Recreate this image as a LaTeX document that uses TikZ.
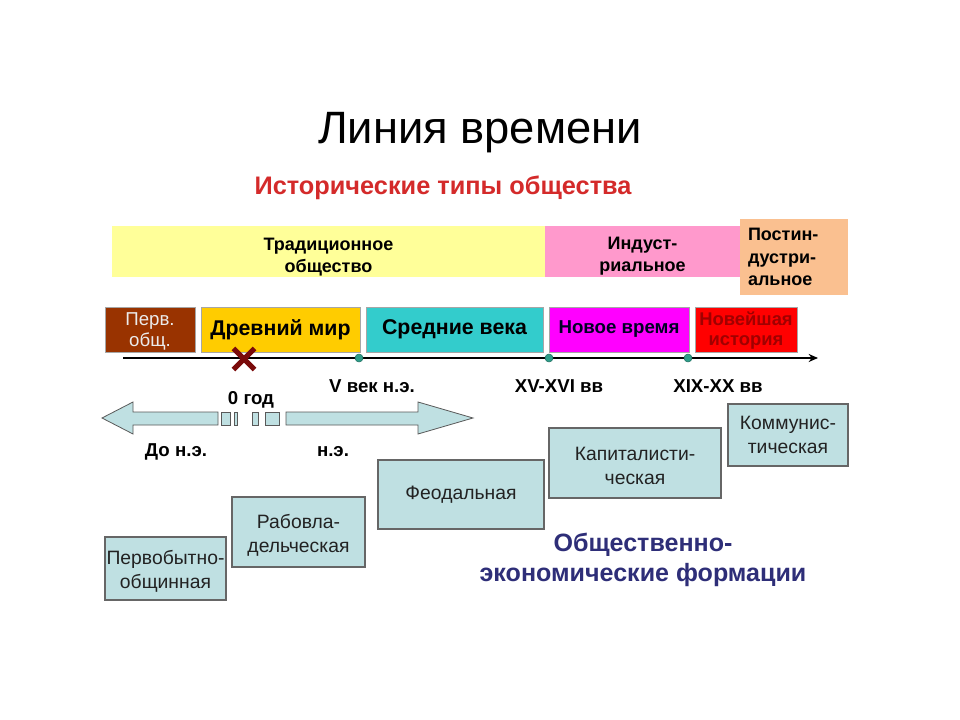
\documentclass[tikz,border=0pt]{standalone}
\usepackage{fontspec}
\setmainfont{Liberation Sans}
\usetikzlibrary{shapes.misc,arrows.meta}
\definecolor{bandyellow}{HTML}{FFFF99}
\definecolor{bandpink}{HTML}{FF99CC}
\definecolor{bandpeach}{HTML}{FAC090}
\definecolor{erabrown}{HTML}{993300}
\definecolor{eragold}{HTML}{FFCC00}
\definecolor{erateal}{HTML}{33CCCC}
\definecolor{eramag}{HTML}{FF00FF}
\definecolor{erared}{HTML}{FF0000}
\definecolor{darkred}{HTML}{A00000}
\definecolor{formfill}{HTML}{BFE0E2}
\definecolor{formtext}{HTML}{222222}
\definecolor{navytext}{HTML}{2E2E78}
\definecolor{subred}{HTML}{D42A2A}
\definecolor{xred}{HTML}{7A0A0A}
\definecolor{dotteal}{HTML}{2E9E8A}
\definecolor{arrowfill}{HTML}{BFE0E2}
\tikzset{
  band/.style={inner sep=0pt, draw=none, align=center, font=\fontsize{13.5pt}{16.5pt}\selectfont\bfseries},
  erabox/.style={inner sep=0pt, draw=gray!70, line width=0.5pt, align=center},
  formbox/.style={inner sep=0pt, draw=gray!80!black, line width=0.8pt, fill=formfill, align=center, text=formtext, font=\fontsize{14.5pt}{18pt}\selectfont},
  datelabel/.style={font=\fontsize{14pt}{16pt}\selectfont\bfseries},
  tdot/.style={circle, fill=dotteal, draw=dotteal!70!black, inner sep=0pt, minimum size=6pt},
  arrowpart/.style={fill=arrowfill, draw=gray!70!black, line width=0.6pt, line join=miter},
}
% box from corner (#3,#4) to (#5,#6), in px
\newcommand\drawbox[7]{%
  \pgfmathsetmacro\bxw{(#5-#3)*0.75}%
  \pgfmathsetmacro\bxh{(#6-#4)*0.75}%
  \node[#2, minimum width=\bxw pt, minimum height=\bxh pt] (#1) at ({(#3+#5)/2},{(#4+#6)/2}) {#7};}
\newcommand\topstrut[1]{\rule{0pt}{#1}}
\begin{document}
\begin{tikzpicture}[x=0.75pt, y=-0.75pt]
\useasboundingbox (0,0) rectangle (960,720);
\fill[white] (0,0) rectangle (960,720);

% titles
\node (title) at (480,133) {\fontsize{34pt}{40pt}\selectfont Линия времени};
\node[text=subred, font=\fontsize{19pt}{22pt}\selectfont\bfseries] (subtitle) at (443,188) {Исторические типы общества};

% society bands
\drawbox{trad}{band, fill=bandyellow}{112}{226}{545}{277}{\topstrut{17pt}Традиционное\\общество}
\drawbox{ind}{band, fill=bandpink}{545}{226}{740}{277}{\topstrut{17pt}Индуст-\\риальное}
\drawbox{post}{band, fill=bandpeach, align=left, text width=69pt, font=\fontsize{13.5pt}{17pt}\selectfont\bfseries}{740}{219}{848}{295}{Постин-\\дустри-\\альное}

% era boxes
\drawbox{perv}{erabox, fill=erabrown, text=white!92!black, font=\fontsize{14pt}{16pt}\selectfont}{105}{307}{195}{352}{\topstrut{13pt}Перв.\\общ.}
\drawbox{drev}{erabox, fill=eragold, font=\fontsize{16pt}{18pt}\selectfont\bfseries}{201}{307}{360}{352}{Древний мир}
\drawbox{sred}{erabox, fill=erateal, font=\fontsize{16pt}{18pt}\selectfont\bfseries}{366}{307}{543}{352}{Средние века}
\drawbox{novoe}{erabox, fill=eramag, text=black!85!blue, font=\fontsize{14pt}{16pt}\selectfont\bfseries}{549}{307}{689}{352}{Новое время}
\drawbox{noveish}{erabox, fill=erared, text=darkred, font=\fontsize{13.8pt}{15pt}\selectfont\bfseries}{695}{307}{797}{352}{\topstrut{12.5pt}Новейшая\\история}

% timeline axis
\coordinate (ax0) at (123,358);
\coordinate (ax1) at (818,358);
\draw[line width=1.6pt, -{Stealth[length=7pt,width=6pt]}] (ax0) -- (ax1);
\node[tdot] (d1) at (359,358) {};
\node[tdot] (d2) at (549,358) {};
\node[tdot] (d3) at (688,358) {};
\node[cross out, draw=xred, line width=3.8pt, minimum size=12pt, inner sep=0pt] (zero) at (244,359) {};

% date labels
\node[datelabel] (v) at (372,386) {V век н.э.};
\node[datelabel] (xv) at (559,386) {XV-XVI вв};
\node[datelabel] (xix) at (718,386) {XIX-XX вв};

% broken double arrow
\draw[arrowpart] (102,418) -- (133,402) -- (133,412) -- (218,412) -- (218,425) -- (133,425) -- (133,434) -- cycle;
\draw[arrowpart] (286,412) -- (418,412) -- (418,402) -- (473,418) -- (418,434) -- (418,425) -- (286,425) -- cycle;
\draw[arrowpart] (221,412) rectangle (230,425);
\draw[arrowpart] (234,412) rectangle (237,425);
\draw[arrowpart] (252,412) rectangle (258,425);
\draw[arrowpart] (265,412) rectangle (279,425);
\node[datelabel] (god) at (251,400) {0 год};
\node[datelabel] (bc) at (176,452) {До н.э.};
\node[datelabel] (ad) at (333,452) {н.э.};

% formations
\drawbox{f1}{formbox}{105}{537}{226}{600}{\topstrut{15pt}Первобытно-\\общинная}
\drawbox{f2}{formbox}{232}{497}{365}{567}{\topstrut{15pt}Рабовла-\\дельческая}
\drawbox{f3}{formbox}{378}{460}{544}{529}{Феодальная}
\drawbox{f4}{formbox}{549}{428}{721}{498}{\topstrut{15pt}Капиталисти-\\ческая}
\drawbox{f5}{formbox}{728}{404}{848}{466}{Коммунис-\\тическая}

\node[text=navytext, align=center, font=\fontsize{18.8pt}{22.5pt}\selectfont\bfseries] (oef) at (643,560) {Общественно-\\экономические формации};
\end{tikzpicture}
\end{document}
